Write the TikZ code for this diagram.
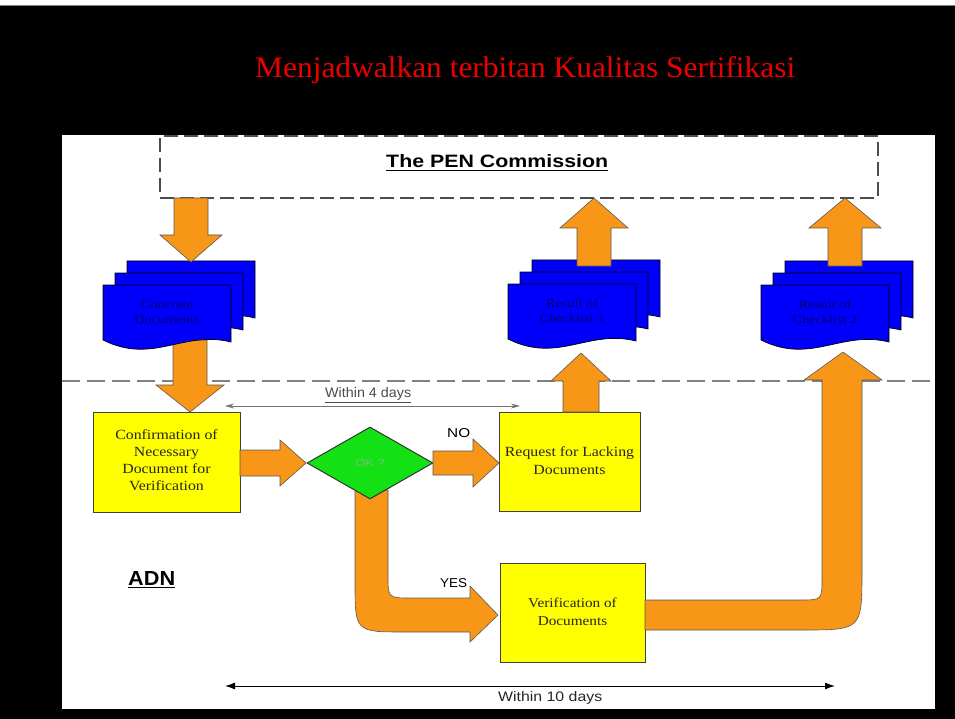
\documentclass[tikz,border=0pt]{standalone}
\usepackage{fontspec}
\usepackage{graphicx}
\setmainfont{Liberation Serif}
\newfontfamily\lsans{Liberation Sans}
\usetikzlibrary{shapes.geometric,arrows.meta}
\definecolor{orA}{RGB}{248,150,24}
\definecolor{yelA}{RGB}{255,255,0}
\definecolor{grnA}{RGB}{20,225,20}
\definecolor{bluA}{RGB}{0,0,250}
\definecolor{navyA}{RGB}{0,0,110}
\definecolor{redA}{RGB}{235,0,0}
\definecolor{okA}{RGB}{130,185,130}
\tikzset{
  blockarrow/.style={fill=orA,draw=black!65,line width=0.6pt,line join=miter},
  docsheet/.style={fill=bluA,draw=black,line width=0.7pt},
  ybox/.style={rectangle,fill=yelA,draw=black!75,line width=1pt,inner sep=0pt},
  serifbox/.style={font=\fontsize{14}{17}\selectfont,text=black!85,align=center},
  doctext/.style={font=\fontsize{12}{15}\selectfont,text=navyA,align=center,inner sep=0pt},
  lbl/.style={inner sep=0pt,anchor=base west},
}
\newcommand\varrow[6]{%
 \pgfmathsetmacro\myhb{(#3>#2) ? (#3-#6) : (#3+#6)}%
 \filldraw[blockarrow] (#1-#4,#2) -- (#1-#4,\myhb) -- (#1-#5,\myhb) -- (#1,#3) -- (#1+#5,\myhb) -- (#1+#4,\myhb) -- (#1+#4,#2) -- cycle;}
\newcommand\harrow[6]{%
 \pgfmathsetmacro\myhb{(#3>#2) ? (#3-#6) : (#3+#6)}%
 \filldraw[blockarrow] (#2,#1-#4) -- (\myhb,#1-#4) -- (\myhb,#1-#5) -- (#3,#1) -- (\myhb,#1+#5) -- (\myhb,#1+#4) -- (#2,#1+#4) -- cycle;}
\newcommand\sheet[2]{%
 \filldraw[docsheet] (#1,#2) -- (#1+128,#2) -- (#1+128,#2+57) .. controls (#1+80,#2+45) and (#1+50,#2+80) .. (#1,#2+55) -- cycle;}
\newcommand\docstack[2]{\sheet{#1+24}{#2-24}\sheet{#1+12}{#2-12}\sheet{#1}{#2}}
\newcommand\sx[1]{\scalebox{1.13}[1]{\begin{tabular}{@{}c@{}}#1\end{tabular}}}
\newcommand\dx[1]{\scalebox{1.2}[1]{\begin{tabular}{@{}c@{}}#1\end{tabular}}}
\begin{document}
\begin{tikzpicture}[x=1pt,y=-1pt]
\useasboundingbox (0,0) rectangle (955,719);
% background
\fill[black] (0,0) rectangle (955,719);
\fill[white] (0,0) rectangle (955,5);
\draw[black!50,line width=0.8pt] (0,5) -- (955,5);
\fill[white] (62,135) rectangle (935,709);
% title
\node[lbl] (title) at (255,78) {\resizebox{540pt}{21pt}{\color{redA}Menjadwalkan terbitan Kualitas Sertifikasi}};
% commission box
\node[draw=black!70,dash pattern=on 14pt off 6pt,line width=1.2pt,minimum width=718pt,minimum height=62pt,inner sep=0pt] (comm) at (519,167) {};
\node[lbl] (commlbl) at (386,168) {\resizebox{222pt}{13pt}{\lsans\bfseries\underline{The PEN Commission}}};
% separator
\draw[black!50,line width=1.5pt,dash pattern=on 18pt off 7pt] (62,381) -- (935,381);
% arrow doc1 -> confirmation (behind doc)
\varrow{190}{340}{412}{17}{34}{27}
% documents
\docstack{103}{285}
\docstack{508}{284}
\docstack{761}{285}
\node[doctext] (doc1) at (167,313) {\dx{Concrete\\Documents}};
\node[doctext] (doc2) at (572,312) {\dx{Result of\\Checklist 1}};
\node[doctext] (doc3) at (825,313) {\dx{Result of\\Checklist 2}};
% arrows to/from commission
\varrow{191}{198}{262}{17}{31}{27}
\varrow{594}{266}{198}{17}{34}{30}
\varrow{845}{266}{198}{17}{36}{30}
% YES arrow (behind diamond)
\filldraw[blockarrow] (388,490) -- (388,575) .. controls (388,598) .. (411,598) -- (470,598) -- (470,586) -- (498,615) -- (470,642) -- (470,632) -- (405,632) .. controls (355,632) .. (355,582) -- (355,490) -- cycle;
% boxes
\node[ybox,minimum width=147pt,minimum height=100pt] (conf) at (166.5,462) {};
\node[serifbox] at (conf.center) {\sx{Confirmation of\\Necessary\\Document for\\Verification}};
\node[ybox,minimum width=141pt,minimum height=99pt] (req) at (569.5,461.5) {};
\node[serifbox,font=\fontsize{14}{18}\selectfont] at (req.center) {\sx{Request for Lacking\\Documents}};
\node[ybox,minimum width=145pt,minimum height=99pt] (ver) at (572.5,612.5) {};
\node[serifbox,font=\fontsize{13.5}{18}\selectfont] at (ver.center) {\sx{Verification of\\Documents}};
\node[diamond,fill=grnA,draw=black!80,line width=1pt,minimum width=126pt,minimum height=72pt,inner sep=0pt] (ok) at (370,463) {};
\node[inner sep=0pt] (oklbl) at (ok.center) {\resizebox{29pt}{7pt}{\lsans\color{okA}OK ?}};
% horizontal block arrows
\harrow{463}{240}{306}{13}{23}{26}
\harrow{463}{433}{499}{12}{24}{26}
% request -> doc2
\varrow{581}{412}{353}{18}{30}{28}
% big arrow verification -> doc3
\filldraw[blockarrow] (645,600) -- (800,600) .. controls (822,600) .. (822,578) -- (822,380) -- (804,380) -- (843,352) -- (882,380) -- (862,380) -- (862,570) .. controls (862,630) .. (802,630) -- (645,630) -- cycle;
% labels
\node[lbl] (no) at (447,437) {\resizebox{23pt}{9pt}{\lsans NO}};
\node[lbl] (yes) at (440,587) {\resizebox{27pt}{9pt}{\lsans YES}};
\node[lbl] (adn) at (128,585) {\resizebox{47pt}{14pt}{\lsans\bfseries\underline{ADN}}};
% timing arrows
\coordinate (w4a) at (225,406);
\coordinate (w4b) at (520,406);
\draw[black!55,line width=1pt,{Stealth[length=9pt,width=5pt]}-{Stealth[length=9pt,width=5pt]}] (w4a) -- (w4b);
\node[lbl] (w4) at (325,397) {\resizebox{86pt}{10pt}{\lsans\color{black!70}\underline{Within 4 days}}};
\coordinate (w10a) at (225,686);
\coordinate (w10b) at (835,686);
\draw[black,line width=1pt,{Latex[length=10pt,width=7pt]}-{Latex[length=10pt,width=7pt]}] (w10a) -- (w10b);
\node[lbl] (w10) at (498,701) {\resizebox{104pt}{10pt}{\lsans\color{black!85}Within 10 days}};
\end{tikzpicture}
\end{document}
